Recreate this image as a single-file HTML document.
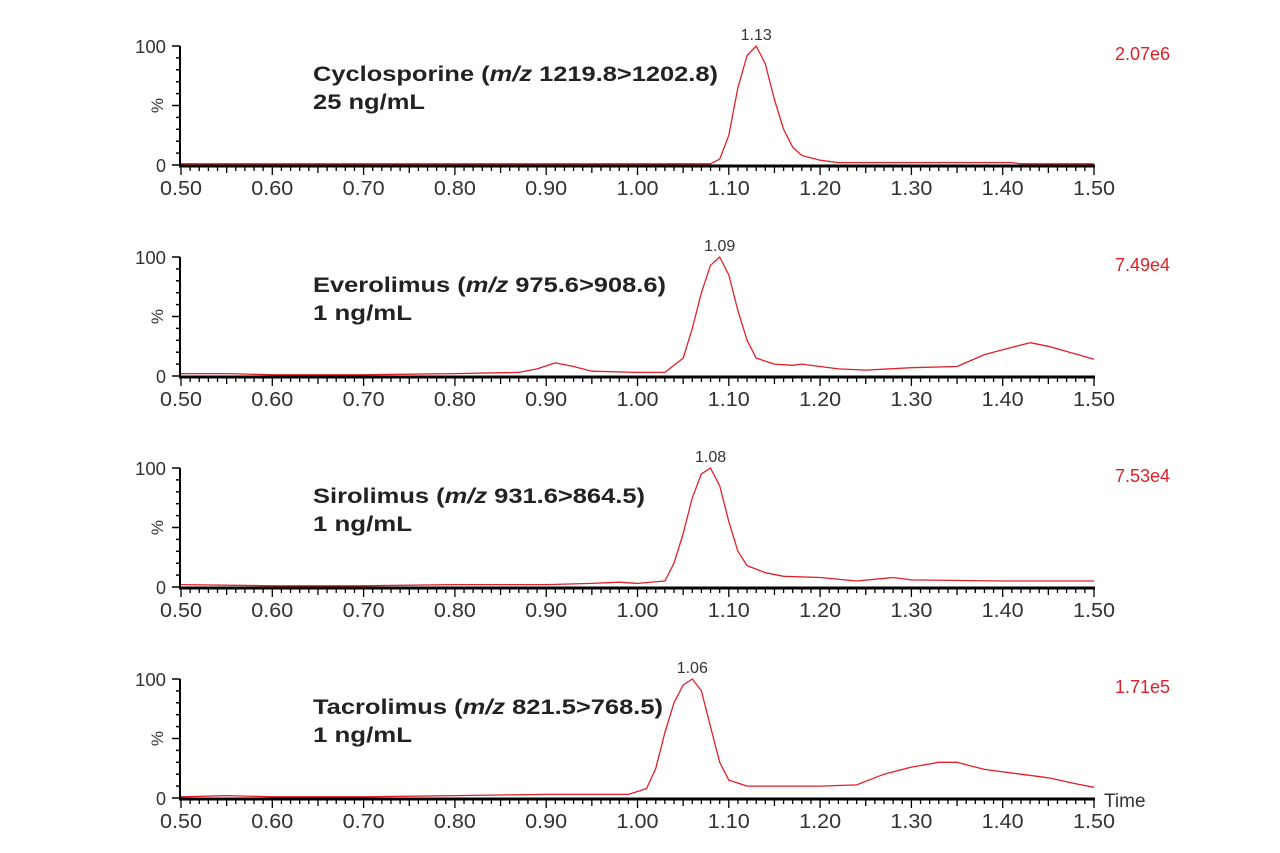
<!DOCTYPE html>
<html><head><meta charset="utf-8">
<style>
html,body{margin:0;padding:0;background:#fff;}
svg{display:block;font-family:"Liberation Sans",Arial,sans-serif;}
</style></head>
<body>
<svg id="chart" width="1280" height="853" viewBox="0 0 1280 853"></svg>
<script>
const panelNames = ["cyclosporine","everolimus","sirolimus","tacrolimus"];
const titles = ["Cyclosporine","Everolimus","Sirolimus","Tacrolimus"];
const transitions = ["1219.8>1202.8","975.6>908.6","931.6>864.5","821.5>768.5"];
const concs = ["25 ng/mL","1 ng/mL","1 ng/mL","1 ng/mL"];
const intensities = ["2.07e6","7.49e4","7.53e4","1.71e5"];
const peakLabels = ["1.13","1.09","1.08","1.06"];
const xTicks = [0.50,0.60,0.70,0.80,0.90,1.00,1.10,1.20,1.30,1.40,1.50];
const cycloT = [0.50,0.70,0.90,1.00,1.08,1.09,1.10,1.11,1.12,1.13,1.14,1.15,1.16,1.17,1.18,1.20,1.22,1.30,1.40,1.41,1.42,1.50];
const cycloY = [1,1,1,1,1,5,25,65,92,100,85,55,30,15,8,4,2,2,2,2,1,1];
const everoT = [0.50,0.55,0.60,0.70,0.80,0.87,0.89,0.91,0.93,0.95,1.00,1.03,1.05,1.06,1.07,1.08,1.09,1.10,1.11,1.12,1.13,1.15,1.17,1.18,1.20,1.22,1.25,1.30,1.35,1.38,1.40,1.43,1.45,1.50];
const everoY = [2,2,1,1,2,3,6,11,8,4,3,3,15,40,70,93,100,85,55,30,15,10,9,10,8,6,5,7,8,18,22,28,25,14];
const siroT = [0.50,0.60,0.70,0.80,0.90,0.95,0.98,1.00,1.03,1.04,1.05,1.06,1.07,1.08,1.09,1.10,1.11,1.12,1.14,1.16,1.20,1.24,1.28,1.30,1.40,1.50];
const siroY = [2,1,1,2,2,3,4,3,5,20,45,75,95,100,85,55,30,18,12,9,8,5,8,6,5,5];
const tacroT = [0.50,0.55,0.60,0.70,0.80,0.90,0.99,1.01,1.02,1.03,1.04,1.05,1.06,1.07,1.08,1.09,1.10,1.12,1.20,1.24,1.27,1.30,1.33,1.35,1.36,1.38,1.42,1.45,1.48,1.50];
const tacroY = [1,2,1,1,2,3,3,8,25,55,80,95,100,90,60,30,15,10,10,11,20,26,30,30,28,24,20,17,12,9];
const seriesT = [cycloT, everoT, siroT, tacroT];
const seriesY = [cycloY, everoY, siroY, tacroY];
const titleWidths = [405, 353, 332, 350];
const concWidths = [112, 99, 99, 99];

const NS = "http://www.w3.org/2000/svg";
const svg = document.getElementById("chart");
const X0 = 181, X1 = 1094;
function xs(t){ return X0 + (t - 0.5) / 1.0 * (X1 - X0); }
function mk(tag, attrs, parent){ const e = document.createElementNS(NS, tag); for (const k in attrs) e.setAttribute(k, attrs[k]); (parent||svg).appendChild(e); return e; }

for (let p = 0; p < 4; p++) {
  const top = 46 + p * 211, base = 165 + p * 211;
  const ys = v => base - v / 100 * (base - top);
  const g = mk("g", {});
  
  
  const ya = mk("line", {x1:180, y1:top, x2:180, y2:base+1, stroke:"#000", "stroke-width":2}, g);
  
  
  for (let v = 0; v <= 100; v += 10) {
    const len = (v % 50 === 0) ? 8 : 4;
    mk("line", {x1:180-len, y1:ys(v), x2:180, y2:ys(v), stroke:"#000", "stroke-width":1.5}, g);
  }
  const l100 = mk("text", {x:166, y:top+7, "font-size":18, "text-anchor":"end", fill:"#333", textLength:31, lengthAdjust:"spacingAndGlyphs"}, g); l100.textContent = "100";
   
  const l0 = mk("text", {x:166, y:base+7, "font-size":18, "text-anchor":"end", fill:"#333"}, g); l0.textContent = "0";
   
  const pc = mk("text", {x:0, y:0, "font-size":17, "text-anchor":"middle", fill:"#333", transform:`translate(163 ${ys(50)}) rotate(-90)`}, g); pc.textContent = "%";
   
  const xa = mk("line", {x1:179, y1:base+1, x2:X1+1, y2:base+1, stroke:"#000", "stroke-width":3}, g);
   
  for (let i = 0; i <= 100; i++) {
    const len = (i % 10 === 0) ? 9 : (i % 5 === 0 ? 7 : 5);
    mk("line", {x1:xs(0.5+i/100), y1:base+1, x2:xs(0.5+i/100), y2:base+1+len, stroke:"#000", "stroke-width":1.3}, g);
  }
  xTicks.forEach(t => {
    const tx = mk("text", {x:xs(t), y:base+30, "font-size":20, "text-anchor":"middle", fill:"#333", textLength:42, lengthAdjust:"spacingAndGlyphs"}, g);
    tx.textContent = t.toFixed(2);
     
  });
  if (p === 3) {
    const tm = mk("text", {x:1104, y:base+9, "font-size":19, fill:"#333"}, g); tm.textContent = "Time";
     
  }
  const T = seriesT[p], Y = seriesY[p];
  let d = "";
  T.forEach((t, i) => { d += (i ? "L" : "M") + xs(t).toFixed(1) + " " + ys(Y[i]).toFixed(1); });
  const path = mk("path", {d:d, fill:"none", stroke:"#e0202a", "stroke-width":1.3, "stroke-linejoin":"round"}, g);
   
  let mi = 0; Y.forEach((v, i) => { if (v > Y[mi]) mi = i; });
  const pk = mk("text", {x:xs(T[mi]), y:ys(Y[mi]) - 6, "font-size":16, "text-anchor":"middle", fill:"#333"}, g);
  pk.textContent = peakLabels[p];
   
  const it = mk("text", {x:1170, y:top+14, "font-size":18, "text-anchor":"end", fill:"#e0202a"}, g);
  it.textContent = intensities[p];
   
  const tt = mk("text", {x:313, y:top+35, "font-size":21, "font-weight":"bold", fill:"#222", textLength:titleWidths[p], lengthAdjust:"spacingAndGlyphs"}, g);
  tt.innerHTML = titles[p] + ' (<tspan font-style="italic">m/z</tspan> ' + transitions[p] + ')';
   
  const cc = mk("text", {x:313, y:top+63, "font-size":21, "font-weight":"bold", fill:"#222", textLength:concWidths[p], lengthAdjust:"spacingAndGlyphs"}, g);
  cc.textContent = concs[p];
   
}
</script>
</body></html>
